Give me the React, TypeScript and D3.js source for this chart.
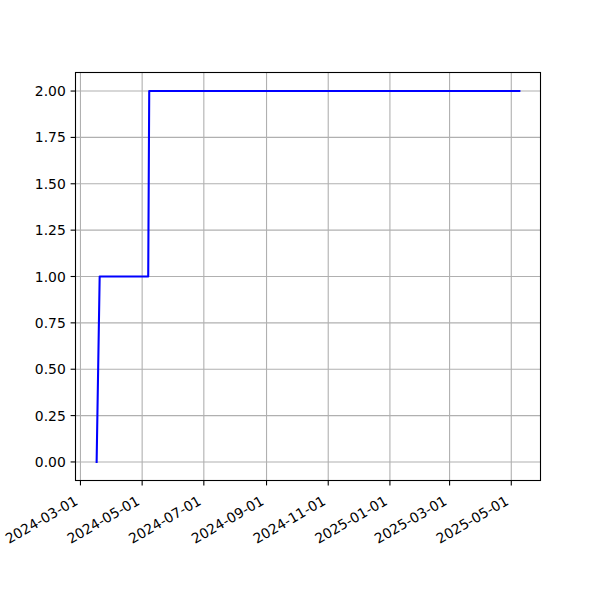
import React from "react";
import * as d3 from "d3";

const dates: string[] = ["2024-03-17", "2024-03-20", "2024-05-07", "2024-05-08", "2025-05-09"];
const values: number[] = [0, 1, 1, 2, 2];
const xTickLabels: string[] = ["2024-03-01", "2024-05-01", "2024-07-01", "2024-09-01", "2024-11-01", "2025-01-01", "2025-03-01", "2025-05-01"];
const yTicks: number[] = [0, 0.25, 0.5, 0.75, 1.0, 1.25, 1.5, 1.75, 2.0];

export default function App() {
  const W = 600, H = 600;
  const left = 75.5, right = 540.5, top = 72.5, bottom = 480.5;
  const parse = d3.utcParse("%Y-%m-%d");
  const pts = dates.map((d, i) => ({ t: parse(d)!, v: values[i] }));
  const t0 = pts[0].t.getTime(), t1 = pts[pts.length - 1].t.getTime();
  const pad = (t1 - t0) * 0.05;
  const x = d3.scaleUtc().domain([new Date(t0 - pad), new Date(t1 + pad)]).range([left, right]);
  const vmin = d3.min(values)!, vmax = d3.max(values)!;
  const vp = (vmax - vmin) * 0.05;
  const y = d3.scaleLinear().domain([vmin - vp, vmax + vp]).range([bottom, top]);
  const line = d3.line<{ t: Date; v: number }>().x(d => x(d.t)).y(d => y(d.v));
  const fs = 13.9;
  const textStyle: React.CSSProperties = { fontFamily: "'DejaVu Sans', sans-serif", fontSize: `${fs}px` };
  const asc = 15.5, desc = 3.2;
  const labelTop = bottom + 4.9 + 4.9;
  return (
    <svg width={W} height={H} style={{ display: "block", position: "absolute", left: 0, top: 0 }}>
      <rect x={0} y={0} width={W} height={H} fill="white" />
      {xTickLabels.map(l => {
        const xx = x(parse(l)!);
        return <line key={"gx" + l} x1={xx} x2={xx} y1={top} y2={bottom} stroke="#b0b0b0" strokeWidth={1.1} />;
      })}
      {yTicks.map(v => (
        <line key={"gy" + v} x1={left} x2={right} y1={y(v)} y2={y(v)} stroke="#b0b0b0" strokeWidth={1.1} />
      ))}
      <path d={line(pts)!} fill="none" stroke="blue" strokeWidth={2.08} strokeLinejoin="round" strokeLinecap="square" />
      <rect x={left} y={top} width={right - left} height={bottom - top} fill="none" stroke="black" strokeWidth={1.1} />
      {xTickLabels.map(l => {
        const xx = x(parse(l)!);
        const ax = xx - 0.5 * desc;
        const ay = labelTop + 0.866 * asc;
        return (
          <g key={"tx" + l}>
            <line x1={xx} x2={xx} y1={bottom} y2={bottom + 4.9} stroke="black" strokeWidth={1.1} />
            <text transform={`translate(${ax},${ay}) rotate(-30)`} textAnchor="end" style={textStyle} fill="black">
              {l}
            </text>
          </g>
        );
      })}
      {yTicks.map(v => (
        <g key={"ty" + v}>
          <line x1={left - 4.9} x2={left} y1={y(v)} y2={y(v)} stroke="black" strokeWidth={1.1} />
          <text x={left - 9.7} y={y(v)} textAnchor="end" dominantBaseline="central" style={textStyle} fill="black">
            {v.toFixed(2)}
          </text>
        </g>
      ))}
    </svg>
  );
}
